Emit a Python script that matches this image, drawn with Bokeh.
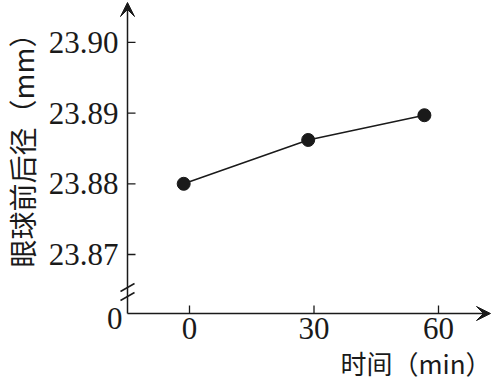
import math
from bokeh.plotting import figure
from bokeh.models import Label, Arrow, VeeHead, Range1d
from bokeh.core.properties import value
from bokeh.embed import file_html
from bokeh.resources import INLINE

# data
times = [-1.4, 28.6, 56.6]
diameter = [23.8800, 23.8862, 23.8897]
x_ticks = [0, 30, 60]
x_tick_labels = ["0", "30", "60"]
y_ticks = [23.87, 23.88, 23.89, 23.90]
y_tick_labels = ["23.87", "23.88", "23.89", "23.90"]
x_title = "时间（min）"
y_title = "眼球前后径（mm）"

INK = "#1a1a1a"
SERIF = "Liberation Serif"
CJK = "Noto Sans CJK SC"

W, H = 491, 382
# scale: x tick 0 at px 189, 4.15 px per minute; y 23.87 at px 254, 7070 px per mm
XPX, X0PX = 4.15, 189.0
YPX, Y0PX = 7070.0, 254.0


def dx(px):
    return (px - X0PX) / XPX


def dy(py):
    return 23.87 + (Y0PX - py) / YPX


p = figure(width=W, height=H, output_backend="svg", toolbar_location=None,
           x_range=Range1d(dx(0), dx(W)), y_range=Range1d(dy(H), dy(0)),
           min_border=0)
p.outline_line_color = None
p.xgrid.visible = False
p.ygrid.visible = False
p.xaxis.visible = False
p.yaxis.visible = False
p.background_fill_color = "white"
p.border_fill_color = "white"

xa = dx(127)          # y axis position
yb = dy(313)          # x axis position

# axes with arrows
p.add_layout(Arrow(end=VeeHead(size=14, fill_color=INK, line_color=INK, line_width=1),
                   x_start=xa, y_start=yb, x_end=xa, y_end=dy(2),
                   line_color=INK, line_width=1.5))
p.add_layout(Arrow(end=VeeHead(size=14, fill_color=INK, line_color=INK, line_width=1),
                   x_start=xa, y_start=yb, x_end=dx(490), y_end=yb,
                   line_color=INK, line_width=1.5))

# ticks
p.segment(x0=[xa] * len(y_ticks), y0=y_ticks, x1=[xa + 8 / XPX] * len(y_ticks), y1=y_ticks,
          line_color=INK, line_width=1.3)
p.segment(x0=x_ticks, y0=[yb] * len(x_ticks), x1=x_ticks, y1=[yb + 8 / YPX] * len(x_ticks),
          line_color=INK, line_width=1.3)

# tick labels
p.text(x=[xa - 9 / XPX] * len(y_ticks), y=y_ticks, text=y_tick_labels,
       text_font=value(SERIF), text_font_size=value("31px"), text_color=INK,
       text_align="right", text_baseline="middle")
p.text(x=x_ticks, y=[yb - 4 / YPX] * len(x_ticks), text=x_tick_labels,
       text_font=value(SERIF), text_font_size=value("31px"), text_color=INK,
       text_align="center", text_baseline="top")

# axis break marks
for off in (0, 9):
    p.segment(x0=[dx(120)], y0=[dy(291 + off)], x1=[dx(134)], y1=[dy(283 + off)],
              line_color=INK, line_width=1.5)

p.add_layout(Label(x=dx(122), y=dy(318), text="0", text_font=SERIF,
                   text_font_size="31px", text_color=INK,
                   text_align="right", text_baseline="middle"))

p.add_layout(Label(x=dx(491), y=dy(362), text=x_title, text_font=CJK,
                   text_font_size="26px", text_color=INK,
                   text_align="right", text_baseline="middle"))

p.add_layout(Label(x=dx(21), y=dy(143), text=y_title, text_font=CJK,
                   text_font_size="28px", text_color=INK, angle=math.pi / 2,
                   text_align="center", text_baseline="middle"))

# data
p.line(times, diameter, line_color=INK, line_width=1.5)
p.scatter(times, diameter, size=13, fill_color=INK, line_color=INK)

open("out.html", "w").write(file_html(p, INLINE))
